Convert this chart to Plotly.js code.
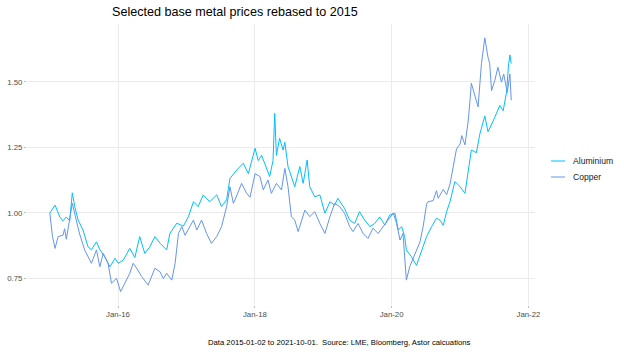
<!DOCTYPE html>
<html>
<head>
<meta charset="utf-8">
<script src="https://cdn.plot.ly/plotly-3.0.1.min.js"></script>
<style>html,body{margin:0;padding:0;background:#fff;}#chart{width:624px;height:352px;}</style>
</head>
<body>
<div id="chart"></div>
<script>
const seriesNames = ["Aluminium", "Copper"];
const seriesColors = ["#00BFFF", "#6495ED"];

const aluminiumDates = [
"2015-01-02","2015-01-30","2015-02-24","2015-03-13","2015-03-31","2015-04-18","2015-05-02","2015-05-15","2015-06-02","2015-06-28",
"2015-07-25","2015-08-12","2015-09-08","2015-09-26","2015-10-22","2015-11-19","2015-12-16","2016-01-02","2016-01-29","2016-03-04",
"2016-03-31","2016-04-26","2016-05-23","2016-06-19","2016-07-16","2016-08-12","2016-09-17","2016-10-04","2016-11-10","2016-12-15",
"2017-01-11","2017-02-07","2017-03-04","2017-03-31","2017-05-05","2017-06-11","2017-07-07","2017-08-03","2017-08-21","2017-09-26",
"2017-10-31","2017-11-27","2018-01-02","2018-01-19","2018-02-06","2018-03-04","2018-03-21","2018-04-08","2018-04-17","2018-04-26",
"2018-05-13","2018-06-01","2018-06-10","2018-06-27","2018-07-15","2018-08-02","2018-08-29","2018-09-16","2018-10-07","2018-10-21",
"2018-11-17","2018-12-14","2019-01-10","2019-02-06","2019-03-03","2019-03-20","2019-04-25","2019-05-22","2019-06-18","2019-07-14",
"2019-08-10","2019-09-07","2019-10-03","2019-10-30","2019-11-26","2019-12-22","2020-01-19","2020-02-06","2020-02-24","2020-03-11",
"2020-03-20","2020-04-16","2020-05-13","2020-06-09","2020-07-06","2020-08-02","2020-08-28","2020-09-15","2020-10-03","2020-10-21",
"2020-11-08","2020-12-04","2021-01-01","2021-01-27","2021-02-14","2021-03-02","2021-03-29","2021-04-16","2021-05-13","2021-05-30",
"2021-06-26","2021-07-14","2021-08-01","2021-08-19","2021-09-07","2021-09-16","2021-09-24","2021-10-01"
];
const aluminium = [
1.00,1.03,0.985,0.97,0.985,0.97,1.077,1.024,0.973,0.935,
0.871,0.86,0.89,0.86,0.833,0.795,0.827,0.808,0.82,0.865,
0.83,0.91,0.846,0.871,0.91,0.885,0.859,0.922,0.961,0.95,
0.986,1.043,1.024,1.069,1.043,1.069,1.024,1.05,1.132,1.164,
1.19,1.15,1.247,1.20,1.22,1.17,1.139,1.20,1.38,1.22,
1.285,1.24,1.27,1.177,1.139,1.10,1.177,1.113,1.202,1.10,
1.062,1.069,0.999,1.043,1.03,1.056,1.017,0.973,0.96,1.005,
0.973,0.948,0.96,0.985,0.954,0.992,0.999,0.935,0.948,0.91,
0.859,0.833,0.80,0.859,0.91,0.948,0.98,0.973,0.953,1.005,
1.043,1.12,1.10,1.075,1.164,1.24,1.23,1.30,1.37,1.31,
1.35,1.38,1.41,1.39,1.465,1.56,1.603,1.57
];

const copperDates = [
"2015-01-02","2015-01-16","2015-01-30","2015-02-15","2015-03-13","2015-03-22","2015-03-31","2015-04-18","2015-05-02","2015-05-24",
"2015-06-10","2015-07-07","2015-07-25","2015-08-12","2015-09-08","2015-09-26","2015-10-14","2015-11-09","2015-11-27","2015-12-24",
"2016-01-15","2016-02-07","2016-03-04","2016-03-22","2016-04-09","2016-05-06","2016-06-10","2016-07-16","2016-08-12","2016-08-30",
"2016-09-17","2016-10-14","2016-11-01","2016-11-19","2016-12-07","2016-12-24","2017-01-20","2017-02-07","2017-02-25","2017-03-22",
"2017-04-18","2017-05-14","2017-06-11","2017-07-07","2017-08-03","2017-08-21","2017-09-08","2017-09-17","2017-10-22","2017-11-18",
"2017-12-06","2018-01-02","2018-01-28","2018-02-15","2018-03-12","2018-03-30","2018-04-26","2018-05-23","2018-06-10","2018-06-27",
"2018-07-15","2018-08-02","2018-08-20","2018-09-08","2018-09-25","2018-10-21","2018-11-17","2018-12-14","2019-01-10","2019-02-06",
"2019-03-03","2019-03-30","2019-04-25","2019-05-22","2019-06-09","2019-07-06","2019-08-02","2019-08-28","2019-09-24","2019-10-21",
"2019-11-17","2019-12-13","2020-01-10","2020-01-28","2020-02-15","2020-03-02","2020-03-20","2020-04-07","2020-05-04","2020-06-01",
"2020-06-18","2020-07-06","2020-07-14","2020-08-10","2020-08-28","2020-09-06","2020-10-03","2020-10-21","2020-11-08","2020-11-25",
"2020-12-13","2021-01-01","2021-01-10","2021-01-27","2021-02-14","2021-02-23","2021-03-02","2021-03-20","2021-04-07","2021-04-25",
"2021-05-13","2021-05-30","2021-06-08","2021-06-18","2021-07-05","2021-07-22","2021-08-10","2021-08-22","2021-09-10","2021-09-24",
"2021-10-01"
];
const copper = [
1.00,0.91,0.865,0.91,0.915,0.94,0.90,0.985,1.037,0.97,
0.92,0.859,0.833,0.808,0.859,0.795,0.846,0.808,0.732,0.751,
0.70,0.732,0.77,0.808,0.79,0.758,0.725,0.789,0.776,0.75,
0.77,0.744,0.808,0.922,0.948,0.915,0.948,0.973,0.935,0.973,
0.922,0.884,0.91,0.948,1.024,1.10,1.037,1.05,1.113,1.075,
1.06,1.15,1.139,1.088,1.126,1.075,1.113,1.088,1.17,1.10,
0.986,0.973,0.929,0.973,1.011,0.986,1.005,0.96,0.922,0.986,
1.037,1.024,0.999,0.948,0.929,0.96,0.922,0.903,0.942,0.922,
0.948,0.973,1.00,0.96,0.897,0.922,0.744,0.795,0.84,0.89,
0.95,1.034,1.043,1.047,1.085,1.056,1.09,1.07,1.11,1.174,
1.245,1.263,1.295,1.26,1.355,1.43,1.495,1.45,1.405,1.57,
1.668,1.594,1.57,1.467,1.505,1.556,1.499,1.53,1.46,1.53,
1.43
];

const yTickVals = [0.75, 1.00, 1.25, 1.50];
const yTickText = ["0.75", "1.00", "1.25", "1.50"];
const xTickVals = ["2016-01-01", "2018-01-01", "2020-01-01", "2022-01-01"];
const xTickText = ["Jan-16", "Jan-18", "Jan-20", "Jan-22"];

const titleText = "Selected base metal prices rebased to 2015";
const captionText = "Data 2015-01-02 to 2021-10-01.  Source: LME, Bloomberg, Astor calcuations";

const traces = [
  {x: aluminiumDates, y: aluminium, name: seriesNames[0], type: "scatter", mode: "lines",
   line: {color: seriesColors[0], width: 1}, showlegend: false},
  {x: copperDates, y: copper, name: seriesNames[1], type: "scatter", mode: "lines",
   line: {color: seriesColors[1], width: 1}, showlegend: false}
];

const font = "Liberation Sans, Arial, sans-serif";
const legendY = [0.5125, 0.4555];
const shapes = [];
const annotations = [];
seriesNames.forEach((n, i) => {
  shapes.push({type: "line", xref: "paper", yref: "paper", x0: 1.0315, x1: 1.059, y0: legendY[i], y1: legendY[i],
    line: {color: seriesColors[i], width: 1}});
  annotations.push({xref: "paper", yref: "paper", x: 1.0709, y: legendY[i], xanchor: "left", yanchor: "middle",
    text: n, showarrow: false, font: {family: font, size: 8.6, color: "#1a1a1a"}});
});
annotations.push({xref: "paper", yref: "paper", x: 0.878, y: -0.1317, xanchor: "right", yanchor: "middle",
  text: captionText, showarrow: false, font: {family: font, size: 7.7, color: "#000"}});

const layout = {
  width: 624, height: 352,
  margin: {l: 27, r: 89, t: 24, b: 47},
  paper_bgcolor: "#fff", plot_bgcolor: "#fff",
  font: {family: font},
  title: {text: titleText, x: 112/624, xref: "container", xanchor: "left", y: 1 - 12/352, yref: "container", yanchor: "middle",
    font: {family: font, size: 12.6, color: "#000"}},
  xaxis: {type: "date", range: ["2014-09-02", "2022-02-05"], tickvals: xTickVals, ticktext: xTickText,
    showgrid: true, gridcolor: "#EBEBEB", gridwidth: 1, zeroline: false, showline: false,
    ticks: "outside", ticklen: 2, tickcolor: "#BDBDBD", tickfont: {family: font, size: 7.8, color: "#4D4D4D"}},
  yaxis: {range: [0.649, 1.721], tickvals: yTickVals, ticktext: yTickText,
    showgrid: true, gridcolor: "#EBEBEB", gridwidth: 1, zeroline: false, showline: false,
    ticks: "outside", ticklen: 2, tickcolor: "#BDBDBD", tickfont: {family: font, size: 7.8, color: "#4D4D4D"}},
  shapes: shapes,
  annotations: annotations,
  showlegend: false
};

Plotly.newPlot("chart", traces, layout, {displayModeBar: false, staticPlot: true});
</script>
</body>
</html>
